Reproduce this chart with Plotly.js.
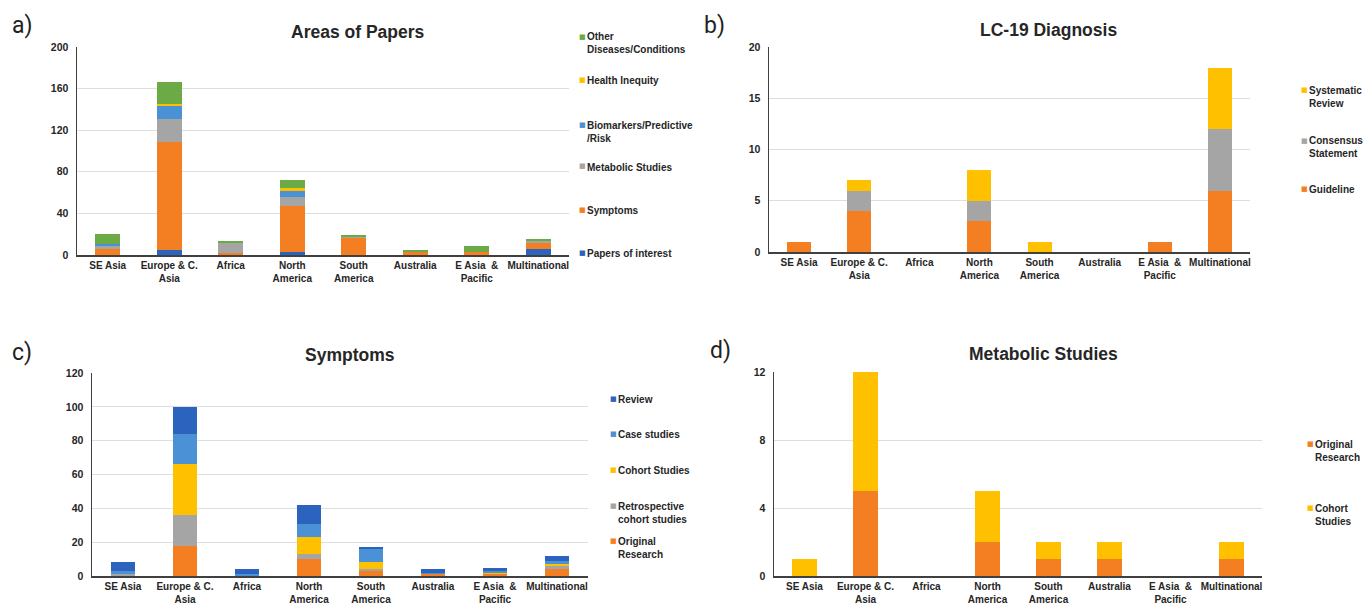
<!DOCTYPE html>
<html>
<head>
<meta charset="utf-8">
<script src="https://cdn.plot.ly/plotly-3.0.1.min.js"></script>
<style>html,body{margin:0;padding:0;background:#fff;}#chart{width:1365px;height:604px;}</style>
</head>
<body>
<div id="chart"></div>
<script>
// ---------- data ----------
const regions = ['SE Asia', 'Europe & C.<br>Asia', 'Africa', 'North<br>America', 'South<br>America', 'Australia', 'E Asia  &<br>Pacific', 'Multinational'];

// a) Areas of Papers
const papersOfInterest = [0, 5, 0, 3, 0, 0, 0, 6];
const symptomsA        = [6, 104, 2, 44, 16, 3, 3, 6];
const metabolicA       = [3, 22, 10, 9, 1, 0, 0, 1];
const biomarkersA      = [2, 12, 0, 6, 0, 0, 0, 0];
const healthInequityA  = [0, 2, 0, 2, 0, 0, 0, 0];
const otherDiseasesA   = [9, 21, 1, 8, 2, 2, 6, 2];

// b) LC-19 Diagnosis
const guidelineB  = [1, 4, 0, 3, 0, 0, 1, 6];
const consensusB  = [0, 2, 0, 2, 0, 0, 0, 6];
const systematicB = [0, 1, 0, 3, 1, 0, 0, 6];

// c) Symptoms
const originalC      = [0, 18, 0, 10, 3, 1, 1, 4];
const retrospectiveC = [1, 18, 0, 3, 1, 0, 0, 2];
const cohortC        = [0, 30, 0, 10, 4, 0, 1, 1];
const caseStudiesC   = [2, 18, 1, 8, 8, 1, 1, 2];
const reviewC        = [5, 16, 3, 11, 1, 2, 2, 3];

// d) Metabolic Studies
const originalD = [0, 5, 0, 2, 1, 1, 0, 1];
const cohortD   = [1, 7, 0, 3, 1, 1, 0, 1];

// ---------- style ----------
const W = 1365, H = 604;
const C = {
  orange: '#F47F22', gray: '#A5A5A5', yellow: '#FFC000',
  lblue: '#4A91D6', dblue: '#2C63BE', green: '#6BAA45'
};
const FONT = 'Liberation Sans, Arial, sans-serif';
const TXT = '#262626';
const px = v => v / W;
const py = v => 1 - v / H;

function bar(x, y, name, color, xa, ya) {
  return {type: 'bar', x: x, y: y, name: name, xaxis: xa, yaxis: ya,
    marker: {color: color, line: {width: 0}}, showlegend: false, hoverinfo: 'x+y+name'};
}

const traces = [
  bar(regions, papersOfInterest, 'Papers of interest', C.dblue, 'x', 'y'),
  bar(regions, symptomsA, 'Symptoms', C.orange, 'x', 'y'),
  bar(regions, metabolicA, 'Metabolic Studies', C.gray, 'x', 'y'),
  bar(regions, biomarkersA, 'Biomarkers/Predictive /Risk', C.lblue, 'x', 'y'),
  bar(regions, healthInequityA, 'Health Inequity', C.yellow, 'x', 'y'),
  bar(regions, otherDiseasesA, 'Other Diseases/Conditions', C.green, 'x', 'y'),

  bar(regions, guidelineB, 'Guideline', C.orange, 'x2', 'y2'),
  bar(regions, consensusB, 'Consensus Statement', C.gray, 'x2', 'y2'),
  bar(regions, systematicB, 'Systematic Review', C.yellow, 'x2', 'y2'),

  bar(regions, originalC, 'Original Research', C.orange, 'x3', 'y3'),
  bar(regions, retrospectiveC, 'Retrospective cohort studies', C.gray, 'x3', 'y3'),
  bar(regions, cohortC, 'Cohort Studies', C.yellow, 'x3', 'y3'),
  bar(regions, caseStudiesC, 'Case studies', C.lblue, 'x3', 'y3'),
  bar(regions, reviewC, 'Review', C.dblue, 'x3', 'y3'),

  bar(regions, originalD, 'Original Research', C.orange, 'x4', 'y4'),
  bar(regions, cohortD, 'Cohort Studies', C.yellow, 'x4', 'y4')
];

function xax(l, r, anchor) {
  return {domain: [px(l), px(r)], anchor: anchor, type: 'category', showgrid: false,
    showline: true, linecolor: '#404040', linewidth: 1.5, ticks: '', fixedrange: true,
    ticklabelstandoff: 0,
    tickfont: {family: FONT, size: 10, color: TXT, weight: 'bold'}, tickangle: 0};
}
function yax(top, bottom, anchor, max, dtick) {
  return {domain: [py(bottom), py(top)], anchor: anchor, range: [0, max], dtick: dtick,
    showgrid: true, gridcolor: '#DEDEDE', gridwidth: 1, zeroline: false,
    showline: true, linecolor: '#404040', linewidth: 1.5, ticks: '', ticklabelstandoff: 5,
    tickfont: {family: FONT, size: 10.5, color: TXT, weight: 'bold'}, fixedrange: true};
}

const annotations = [];
function note(text, x, y, size, opts) {
  annotations.push(Object.assign({text: text, xref: 'paper', yref: 'paper', x: px(x), y: py(y),
    showarrow: false, xanchor: 'left', yanchor: 'middle',
    font: {family: FONT, size: size, color: TXT, weight: 'bold'}}, opts || {}));
}
// panel titles
note('Areas of Papers', 358, 32, 17.5, {xanchor: 'center'});
note('LC-19 Diagnosis', 1048, 30, 17.5, {xanchor: 'center'});
note('Symptoms', 350, 355, 17.5, {xanchor: 'center'});
note('Metabolic Studies', 1043, 354, 17.5, {xanchor: 'center'});
// panel letters
const letterFont = {family: 'Roboto, Noto Sans, sans-serif', size: 23, color: '#222', weight: 'normal'};
note('a)', 10, 25, 23, {font: letterFont});
note('b)', 702, 25, 23, {font: letterFont});
note('c)', 10, 352, 23, {font: letterFont});
note('d)', 708, 350, 23, {font: letterFont});

// legends (square + text)
function legendItem(color, label, sx, y) {
  note('■', sx - 5, y + 0.5, 8, {font: {family: 'DejaVu Sans', size: 7, color: color}});
  note(label, sx + 3, y, 10, {yanchor: 'top', y: py(y - 6.5), align: 'left',
    font: {family: FONT, size: 10, color: TXT, weight: 'bold'}});
}
legendItem(C.green, 'Other<br>Diseases/Conditions', 582, 36);
legendItem(C.yellow, 'Health Inequity', 582, 79);
legendItem(C.lblue, 'Biomarkers/Predictive<br>/Risk', 582, 124);
legendItem(C.gray, 'Metabolic Studies', 582, 166);
legendItem(C.orange, 'Symptoms', 582, 209);
legendItem(C.dblue, 'Papers of interest', 582, 252);

legendItem(C.yellow, 'Systematic<br>Review', 1304, 89);
legendItem(C.gray, 'Consensus<br>Statement', 1304, 140);
legendItem(C.orange, 'Guideline', 1304, 188);

legendItem(C.dblue, 'Review', 613, 398);
legendItem(C.lblue, 'Case studies', 613, 433);
legendItem(C.yellow, 'Cohort Studies', 613, 469);
legendItem(C.gray, 'Retrospective<br>cohort studies', 613, 505);
legendItem(C.orange, 'Original<br>Research', 613, 540);

legendItem(C.orange, 'Original<br>Research', 1310, 443);
legendItem(C.yellow, 'Cohort<br>Studies', 1310, 507);

const layout = {
  width: W, height: H, margin: {l: 0, r: 0, t: 0, b: 0},
  paper_bgcolor: '#fff', plot_bgcolor: '#fff',
  barmode: 'stack', bargap: 0.6, showlegend: false,
  font: {family: FONT, color: TXT},
  xaxis: xax(77, 569, 'y'),
  yaxis: yax(47, 255, 'x', 200, 40),
  xaxis2: xax(769, 1250, 'y2'),
  yaxis2: yax(47, 252, 'x2', 20, 5),
  xaxis3: xax(92, 588, 'y3'),
  yaxis3: yax(373, 576, 'x3', 120, 20),
  xaxis4: xax(774, 1262, 'y4'),
  yaxis4: yax(372, 576, 'x4', 12, 4),
  annotations: annotations
};

Plotly.newPlot('chart', traces, layout, {displayModeBar: false, staticPlot: true});
</script>
</body>
</html>
